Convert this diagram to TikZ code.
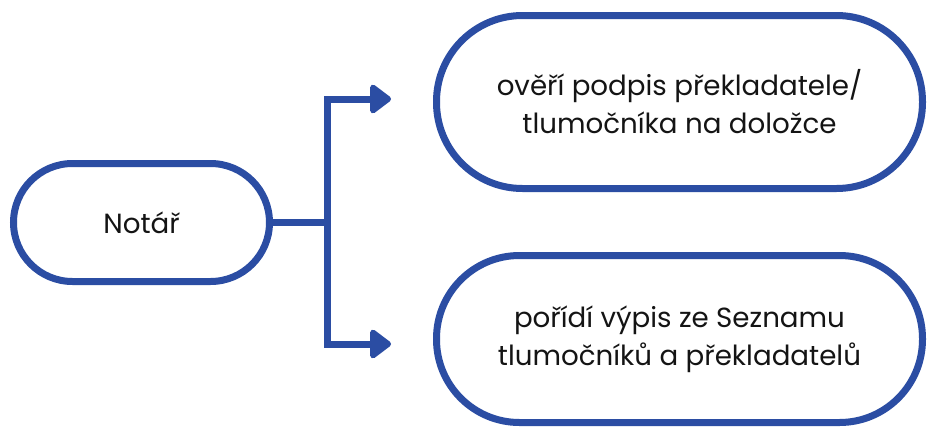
\documentclass[tikz,border=0pt]{standalone}
\usepackage{fontspec}
\setmainfont{Poppins}
\usetikzlibrary{arrows.meta}
\definecolor{frame}{RGB}{43,77,163}
\definecolor{ink}{RGB}{20,20,20}
\begin{document}
\begin{tikzpicture}[x=1pt,y=-1pt,
  box/.style={draw=frame, line width=7pt, fill=white, rectangle, inner sep=0pt,
    align=center, text=ink, font=\fontsize{27.7}{38}\selectfont},
  conn/.style={draw=frame, line width=7pt},
  tip/.style={conn, -{Triangle[length=23pt,width=33pt,round]}}]
\useasboundingbox (0,0) rectangle (927,426);
\node[box, minimum width=256pt, minimum height=118pt, rounded corners=59pt] (n) at (141.5,222.5) {Notář};
\node[box, minimum width=486pt, minimum height=173pt, rounded corners=86pt] (a) at (679.5,102) {ověří podpis překladatele/\\tlumočníka na doložce};
\node[box, minimum width=486pt, minimum height=167pt, rounded corners=83pt] (b) at (679.5,339) {pořídí výpis ze Seznamu\\tlumočníků a překladatelů};
\coordinate (j) at (327,222.5);
\coordinate (t1) at (391,99);
\coordinate (t2) at (391,344);
\draw[conn] (n.east) -- (j);
\draw[tip] (j) |- (t1);
\draw[tip] (j) |- (t2);
\end{tikzpicture}
\end{document}
